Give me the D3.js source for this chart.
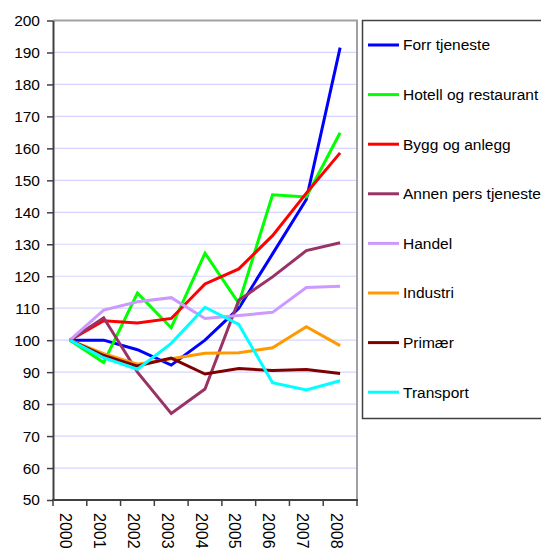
<!DOCTYPE html>
<html>
<head>
<meta charset="utf-8">
<script src="https://cdn.jsdelivr.net/npm/d3@7"></script>
<style>
  body { margin: 0; background: #fff; }
  svg { display: block; font-family: "Liberation Sans", Arial, sans-serif; }
</style>
</head>
<body>
<svg width="541" height="548"></svg>
<script>
// chart data
var years = ['2000', '2001', '2002', '2003', '2004', '2005', '2006', '2007', '2008'];

var forrTjeneste   = [100, 100, 97, 92.2, 100, 110, 127, 144, 191.5];
var hotell         = [100, 93, 114.7, 103.9, 127.2, 111.5, 145.5, 144.8, 164.9];
var bygg           = [100, 106.1, 105.4, 106.8, 117.6, 122.3, 132.7, 146, 158.6];
var annenPers      = [100, 107, 90, 77.1, 84.7, 112.5, 119.8, 128, 130.5];
var handel         = [100, 109.4, 112, 113.3, 106.8, 107.7, 108.7, 116.5, 116.9];
var industri       = [100, 95.8, 92.5, 94.2, 95.9, 96.1, 97.6, 104.2, 98.3];
var primaer        = [100, 95.2, 91.9, 94.4, 89.4, 91.1, 90.5, 90.8, 89.6];
var transport      = [100, 94.5, 90.9, 99, 110.3, 104.9, 86.7, 84.4, 87.3];

var seriesNames  = ['Forr tjeneste', 'Hotell og restaurant', 'Bygg og anlegg', 'Annen pers tjeneste',
                    'Handel', 'Industri', 'Primær', 'Transport'];
var seriesValues = [forrTjeneste, hotell, bygg, annenPers, handel, industri, primaer, transport];
var seriesColors = ['#0000ff', '#00ff00', '#ff0000', '#993366', '#cc99ff', '#ff9900', '#800000', '#00ffff'];

var yTicks = [50, 60, 70, 80, 90, 100, 110, 120, 130, 140, 150, 160, 170, 180, 190, 200];

var PLOT_LEFT = 53, PLOT_RIGHT = 357, PLOT_TOP = 20.5, PLOT_BOTTOM = 500;
var LINE_W = 3;

var main = function () {
  var svg = d3.select('svg');

  var x = d3.scaleBand().domain(years).range([PLOT_LEFT, PLOT_RIGHT]);
  var y = d3.scaleLinear().domain([50, 200]).range([PLOT_BOTTOM, PLOT_TOP]);
  var cx = function (d) { return x(d) + x.bandwidth() / 2; };

  // gridlines
  svg.append('g')
    .selectAll('line')
    .data(yTicks.slice(1, -1))
    .enter()
    .append('line')
    .attr('x1', PLOT_LEFT).attr('x2', PLOT_RIGHT)
    .attr('y1', function (d) { return y(d); })
    .attr('y2', function (d) { return y(d); })
    .attr('stroke', '#d4d4ff')
    .attr('stroke-width', 1.2);

  // grey frame top + right
  svg.append('path')
    .attr('d', 'M' + PLOT_LEFT + ',' + PLOT_TOP + 'H' + PLOT_RIGHT + 'V' + PLOT_BOTTOM)
    .attr('fill', 'none')
    .attr('stroke', '#a0a0a0')
    .attr('stroke-width', 2);

  // y axis
  var yAxis = svg.append('g')
    .attr('transform', 'translate(' + PLOT_LEFT + ',0)')
    .call(d3.axisLeft(y).tickValues(yTicks).tickSize(6).tickSizeOuter(0).tickPadding(7));
  yAxis.select('.domain').attr('stroke', '#404040').attr('stroke-width', 2);
  yAxis.selectAll('.tick line').attr('stroke', '#404040').attr('stroke-width', 1.5);
  yAxis.selectAll('text').attr('font-size', 15.5).attr('fill', '#000')
    .attr('font-family', '"Liberation Sans", Arial, sans-serif');

  // x axis (ticks at category boundaries)
  var bounds = years.map(function (d) { return x(d); }).concat([x.range()[1]]);
  var xg = svg.append('g');
  xg.append('line')
    .attr('x1', PLOT_LEFT - 1).attr('x2', PLOT_RIGHT + 1)
    .attr('y1', PLOT_BOTTOM).attr('y2', PLOT_BOTTOM)
    .attr('stroke', '#404040').attr('stroke-width', 2);
  xg.selectAll('line.tk')
    .data(bounds)
    .enter()
    .append('line')
    .attr('class', 'tk')
    .attr('x1', function (d) { return d; }).attr('x2', function (d) { return d; })
    .attr('y1', PLOT_BOTTOM).attr('y2', PLOT_BOTTOM + 6)
    .attr('stroke', '#404040').attr('stroke-width', 1.5);
  xg.selectAll('text')
    .data(years)
    .enter()
    .append('text')
    .attr('transform', function (d) { return 'translate(' + (cx(d) - 9.5) + ',' + 513 + ') rotate(90)'; })
    .attr('font-size', 16)
    .attr('fill', '#000')
    .text(function (d) { return d; });

  // lines
  var line = d3.line()
    .x(function (d, i) { return cx(years[i]); })
    .y(function (d) { return y(d); });

  svg.append('g')
    .selectAll('path')
    .data(seriesValues)
    .enter()
    .append('path')
    .attr('d', function (d) { return line(d); })
    .attr('fill', 'none')
    .attr('stroke', function (d, i) { return seriesColors[i]; })
    .attr('stroke-width', LINE_W)
    .attr('stroke-linejoin', 'miter');

  // legend
  var lg = svg.append('g');
  lg.append('rect')
    .attr('x', 362.5).attr('y', 20.5)
    .attr('width', 200).attr('height', 398)
    .attr('fill', '#fff')
    .attr('stroke', '#404040')
    .attr('stroke-width', 1.5);

  var item = lg.selectAll('g.item')
    .data(seriesNames)
    .enter()
    .append('g')
    .attr('class', 'item')
    .attr('transform', function (d, i) { return 'translate(0,' + (45 + i * 49.6) + ')'; });
  item.append('line')
    .attr('x1', 368).attr('x2', 399)
    .attr('y1', 0).attr('y2', 0)
    .attr('stroke', function (d, i) { return seriesColors[i]; })
    .attr('stroke-width', LINE_W);
  item.append('text')
    .attr('x', 403)
    .attr('dy', '0.35em')
    .attr('font-size', 15.5)
    .attr('fill', '#000')
    .text(function (d) { return d; });
};

main();
</script>
</body>
</html>
